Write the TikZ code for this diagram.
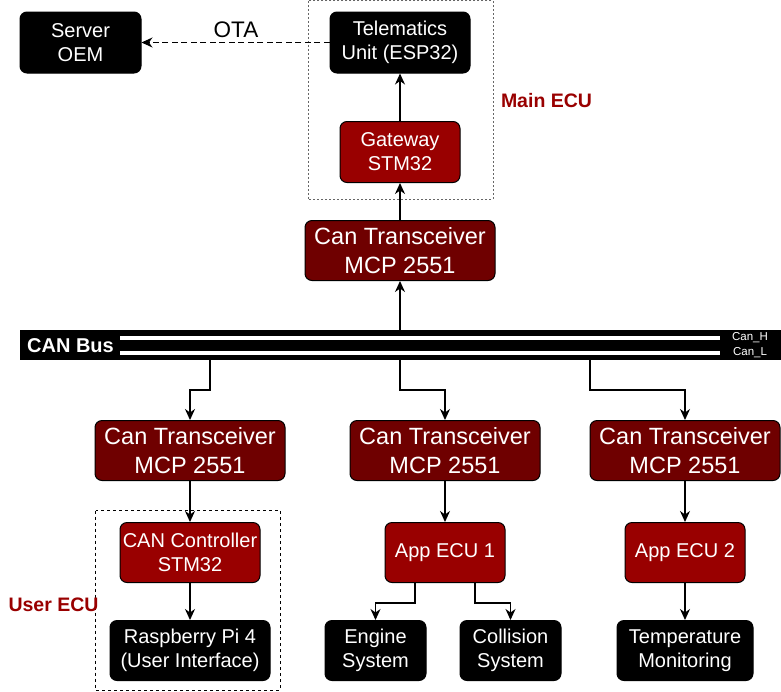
\documentclass[tikz,border=0pt]{standalone}
\usepackage{fontspec}
\setmainfont{Liberation Sans}
\usetikzlibrary{arrows.meta}
\definecolor{redbox}{HTML}{990000}
\definecolor{darkred}{HTML}{6F0000}
\definecolor{labred}{HTML}{990000}
\tikzset{
  base/.style={draw=black, line width=1pt, rounded corners=7pt, text=white, align=center, inner sep=0pt, font=\fontsize{20}{24}\selectfont},
  blackbox/.style={base, fill=black},
  redunit/.style={base, fill=redbox},
  txbox/.style={base, fill=darkred, minimum width=190pt, minimum height=60pt, font=\fontsize{23.5}{29}\selectfont},
  arr/.style={line width=1.3pt, -{Stealth[length=11pt,width=10pt,inset=3.5pt]}},
  grp/.style={line width=1pt, dash pattern=on 3pt off 3pt},
  lab/.style={text=labred, font=\bfseries\fontsize{19.5}{23}\selectfont, inner sep=0pt}
}
\begin{document}
\begin{tikzpicture}[x=1pt,y=-1pt]
\useasboundingbox (0,0) rectangle (781,691);
% groups
\draw[grp, draw=black!60, dash pattern=on 2pt off 2pt] (308,0.8) rectangle (493,199.5);
\draw[grp] (95.5,510.5) rectangle (280,690);
% top
\node[blackbox, minimum width=121pt, minimum height=61pt] (server) at (80.5,42.5) {Server\\OEM};
\node[blackbox, minimum width=140pt, minimum height=61pt] (tele) at (400,42.5) {Telematics\\Unit (ESP32)};
\node[redunit, minimum width=120pt, minimum height=61pt] (gw) at (400,152) {Gateway\\STM32};
\node[txbox] (tx0) at (400,250.5) {Can Transceiver\\MCP 2551};
\node[font=\fontsize{22.5}{26}\selectfont, inner sep=0pt] (ota) at (236,30) {OTA};
\node[lab] (mainecu) at (546.5,101) {Main ECU};
% bus
\node[fill=black, draw=none, minimum width=761pt, minimum height=30pt, inner sep=0pt] (bus) at (400.5,345) {};
\draw[white, line width=4pt] (120,337.8) -- (720,337.8);
\draw[white, line width=4pt] (120,352.8) -- (720,352.8);
\node[text=white, font=\bfseries\fontsize{20}{24}\selectfont, inner sep=0pt] (busl) at (70.5,346) {CAN Bus};
\node[text=white, font=\fontsize{11.5}{13}\selectfont, inner sep=0pt] (canh) at (750,337.5) {Can\_H};
\node[text=white, font=\fontsize{11.5}{13}\selectfont, inner sep=0pt] (canl) at (750,353) {Can\_L};
\coordinate (b0) at (400,330);
\coordinate (b1) at (210,360);
\coordinate (b2) at (400,360);
\coordinate (b3) at (590,360);
% bottom
\node[txbox] (tx1) at (190,450.5) {Can Transceiver\\MCP 2551};
\node[txbox] (tx2) at (445,450.5) {Can Transceiver\\MCP 2551};
\node[txbox] (tx3) at (685,450.5) {Can Transceiver\\MCP 2551};
\node[redunit, minimum width=140pt, minimum height=60pt] (ctrl) at (190,552.5) {CAN Controller\\STM32};
\node[blackbox, minimum width=160pt, minimum height=60pt] (rpi) at (190,650.5) {Raspberry Pi 4\\(User Interface)};
\node[redunit, minimum width=120pt, minimum height=60pt] (app1) at (445,552.5) {App ECU 1};
\node[redunit, minimum width=120pt, minimum height=60pt] (app2) at (685,552.5) {App ECU 2};
\node[blackbox, minimum width=101pt, minimum height=60pt] (engine) at (375.5,650.5) {Engine\\System};
\node[blackbox, minimum width=101pt, minimum height=60pt] (coll) at (510.5,650.5) {Collision\\System};
\node[blackbox, minimum width=136pt, minimum height=60pt] (temp) at (685,650.5) {Temperature\\Monitoring};
\node[lab] (userecu) at (53.5,605) {User ECU};
% connectors
\draw[arr, dash pattern=on 6pt off 3.5pt] (tele.west) -- (server.east);
\draw[arr] (gw.north) -- (tele.south);
\draw[arr] (tx0.north) -- (gw.south);
\draw[arr] (b0) -- (tx0.south);
\draw[arr] (b1) -- ++(0,30) -| (tx1.north);
\draw[arr] (b2) -- ++(0,30) -| (tx2.north);
\draw[arr] (b3) -- ++(0,30) -| (tx3.north);
\draw[arr] (tx1.south) -- (ctrl.north);
\draw[arr] (ctrl.south) -- (rpi.north);
\draw[arr] (tx2.south) -- (app1.north);
\draw[arr] (tx3.south) -- (app2.north);
\draw[arr] (app2.south) -- (temp.north);
\draw[arr] ([xshift=-30pt]app1.south) -- ++(0,20) -| (engine.north);
\draw[arr] ([xshift=30pt]app1.south) -- ++(0,20) -| (coll.north);
\end{tikzpicture}
\end{document}
